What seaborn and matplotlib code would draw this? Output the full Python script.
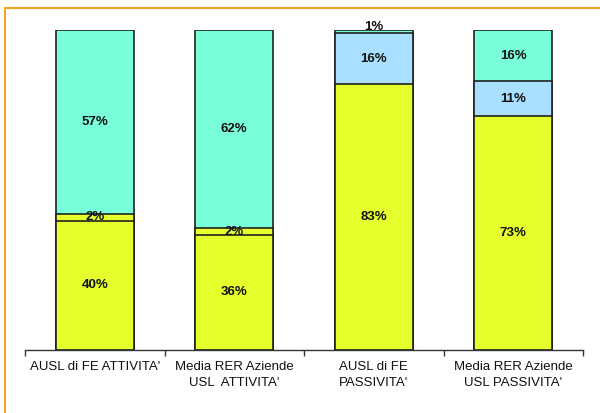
import matplotlib
matplotlib.use("Agg")
import matplotlib.pyplot as plt
import seaborn as sns
import pandas as pd
import numpy as np
from matplotlib.lines import Line2D

categories = ["AUSL di FE ATTIVITA'", "Media RER Aziende\nUSL  ATTIVITA'",
              "AUSL di FE\nPASSIVITA'", "Media RER Aziende\nUSL PASSIVITA'"]
bottom_vals = [40, 36, 83, 73]
middle_vals = [2, 2, 16, 11]
top_vals = [57, 62, 1, 16]

YELLOW = "#E4FF2C"
AQUA = "#78FFDA"
BLUE = "#A9DFFF"
bottom_colors = [YELLOW, YELLOW, YELLOW, YELLOW]
middle_colors = [YELLOW, YELLOW, BLUE, BLUE]
top_colors = [AQUA, AQUA, AQUA, AQUA]

sns.set_style("white")
plt.rcParams['font.family'] = ['Liberation Sans', 'DejaVu Sans']

fig = plt.figure(figsize=(6.0, 4.13), dpi=100)
ax = fig.add_axes([25/600, 63/413, 558/600, 320/413])

b = np.array(bottom_vals, float)
m = np.array(middle_vals, float)
t = np.array(top_vals, float)
tot = b + m + t
bp = b / tot * 100
mp = m / tot * 100
tp = t / tot * 100

layers = [
    (bp + mp + tp, top_colors),
    (bp + mp, middle_colors),
    (bp, bottom_colors),
]
for vals, cols in layers:
    df = pd.DataFrame({"cat": categories, "val": vals})
    sns.barplot(data=df, x="cat", y="val", hue="cat", palette=cols, legend=False,
                width=0.56, edgecolor="#222222", linewidth=1.2, saturation=1,
                ax=ax, dodge=False)

for i in range(len(categories)):
    segs = [(0, bp[i], bottom_vals[i]), (bp[i], mp[i], middle_vals[i]),
            (bp[i] + mp[i], tp[i], top_vals[i])]
    for y0, h, v in segs:
        yc = y0 + h / 2
        if h < 2:
            yc = y0 + h + 1.0
        ax.text(i, yc, f"{v}%", ha="center", va="center", fontsize=9.5,
                fontweight="bold", color="#111111")

ax.set_xlim(-0.5, 3.5)
ax.set_ylim(0, 100)
ax.set_xlabel("")
ax.set_ylabel("")
ax.set_yticks([])
for s in ["top", "right", "left"]:
    ax.spines[s].set_visible(False)
ax.spines["bottom"].set_color("#333333")
ax.spines["bottom"].set_linewidth(1.0)
ax.set_xticks(range(len(categories)))
ax.set_xticklabels(categories, fontsize=9.5, color="#111111", linespacing=1.4)
ax.tick_params(axis="x", which="major", length=0, pad=8)
ax.set_xticks([-0.5, 0.5, 1.5, 2.5, 3.5], minor=True)
ax.tick_params(axis="x", which="minor", length=4, width=1, color="#333333",
               direction="out", bottom=True)

fig.add_artist(Line2D([5/600, 1.0], [1 - 8/413, 1 - 8/413], transform=fig.transFigure,
                      color="#F5A526", linewidth=1.5))
fig.add_artist(Line2D([5/600, 5/600], [0, 1 - 8/413], transform=fig.transFigure,
                      color="#F5A526", linewidth=1.5))

fig.savefig("out.png", dpi=100, facecolor="white")
